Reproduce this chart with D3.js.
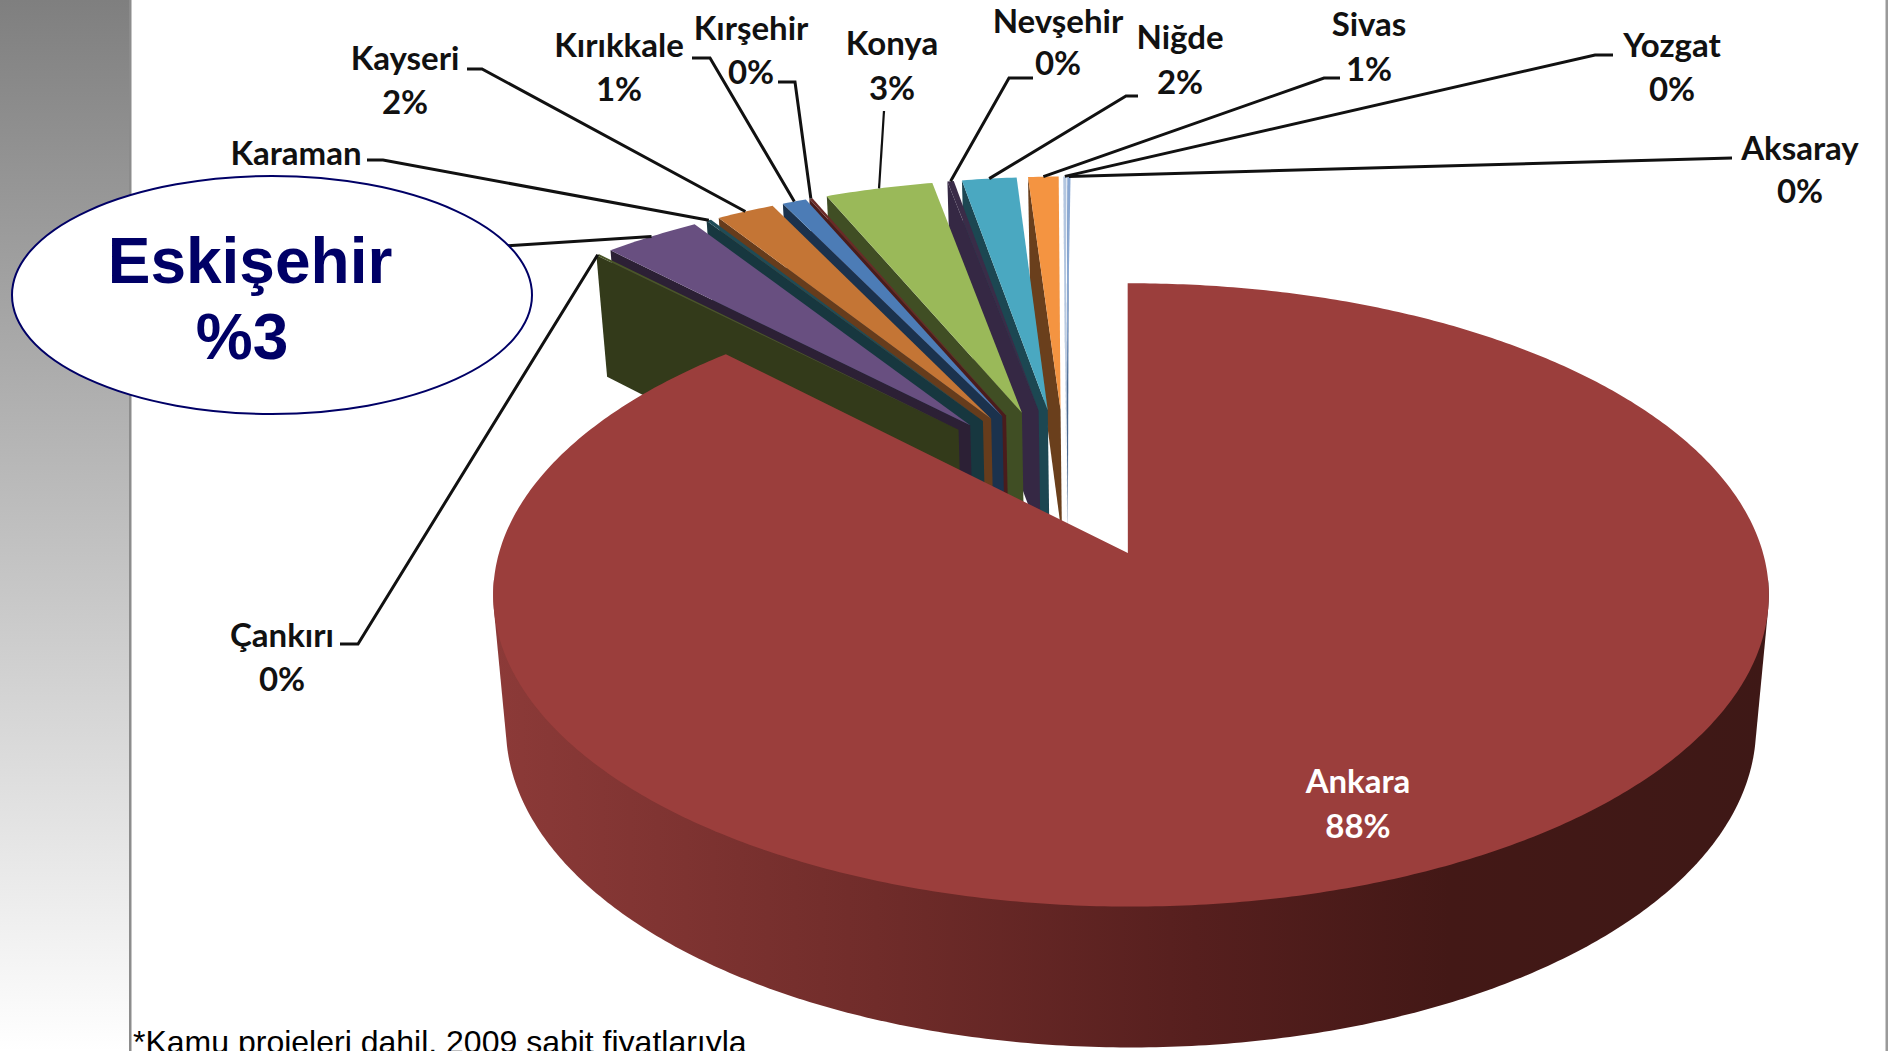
<!DOCTYPE html>
<html>
<head>
<meta charset="utf-8">
<script src="https://d3js.org/d3.v7.min.js"></script>
<style>
html, body { margin: 0; padding: 0; background: #fff; overflow: hidden; }
svg { display: block; }
.lbl { font-family: Lato, sans-serif; font-weight: 700; font-size: 33px; text-anchor: middle; fill: #111; }
</style>
</head>
<body>
<svg id="chart" width="1888" height="1051"></svg>
<script>
// data, clockwise from 12 o'clock
const cities = ["Ankara","Çankırı","Eskişehir","Karaman","Kayseri","Kırıkkale","Kırşehir","Konya","Nevşehir","Niğde","Sivas","Yozgat","Aksaray"];
const shares = [87.7, 0.1, 3.0, 0.15, 1.8, 0.75, 0.1, 3.35, 0.2, 1.7, 0.95, 0.1, 0.1];

const topColors  = ["#9b3e3c","#4a5628","#684f80","#1f4c57","#c47535","#4c7cb6","#6a2a28","#9ab959","#3a2c48","#4aa8c1","#f49441","#b3c6e0","#8aa8d2"];
const wallColors = ["#6b2a28","#333a1a","#2c2035","#17373f","#663c1c","#1b324d","#4a1c1c","#404e24","#352844","#1c4752","#6a3f1c","#5b7aa3","#4b6a91"];

// label layout: text centre, then leader elbow points
const labelLayout = {
  "Kayseri":   {x: 405,  y: 58,  vy: 102, leader: [[467,69],[482,69]]},
  "Kırıkkale": {x: 619,  y: 45,  vy: 89,  leader: [[692,58],[710,58]]},
  "Kırşehir":  {x: 751,  y: 28,  vy: 72,  leader: [[778,82],[795,82]]},
  "Konya":     {x: 892,  y: 43,  vy: 88,  leader: [[884,111]]},
  "Nevşehir":  {x: 1058, y: 21,  vy: 63,  leader: [[1033,78],[1009,78]]},
  "Niğde":     {x: 1180, y: 37,  vy: 82,  leader: [[1138,96],[1126,96]]},
  "Sivas":     {x: 1369, y: 24,  vy: 69,  leader: [[1340,78],[1324,78]]},
  "Yozgat":    {x: 1672, y: 45,  vy: 89,  leader: [[1613,55],[1595,55]]},
  "Aksaray":   {x: 1800, y: 148, vy: 191, leader: [[1732,158]]},
  "Karaman":   {x: 296,  y: 153, leader: [[367,160],[383,160]]},
  "Çankırı":   {x: 282,  y: 635, vy: 679, leader: [[340,644],[358,644]]}
};

const svg = d3.select("#chart");
const defs = svg.append("defs");

// perspective of the pie plane, fitted to the big slice
const x0 = 1131, y0 = 553, sx = 632, sy = 306, k = 0.1346;
const explode = 0.26, radius = 0.975;

function proj(X, Y, low) {
  const s = 1 / (1 + k * Y);
  if (!low) return [x0 + sx * X * s, y0 - sy * Y * s];
  return [x0 + sx * 0.98 * X * s, y0 - sy * Y * s + 131 / (1 + 0.07 * Y)];
}

const turn = -0.006;
const pie = d3.pie().sort(null).startAngle(turn).endAngle(2 * Math.PI + turn);
const arcs = pie(shares);

// plane position of each slice's tip; the big slice sits at the origin
const big = (arcs[0].startAngle + arcs[0].endAngle) / 2;
const cx3 = -explode * Math.sin(big) - 0.007, cy3 = -explode * Math.cos(big);
function tip(d, i) {
  if (i === 0) return [0, 0];
  const b = (d.startAngle + d.endAngle) / 2;
  return [cx3 + explode * Math.sin(b), cy3 + explode * Math.cos(b)];
}
function rimPoint(t, a, r, low) {
  return proj(t[0] + r * Math.sin(a), t[1] + r * Math.cos(a), low);
}
function rim(t, a0, a1, r, low) {
  const n = Math.max(2, Math.ceil(Math.abs(a1 - a0) / 0.01));
  return d3.range(n + 1).map(j => rimPoint(t, a0 + (a1 - a0) * j / n, r, low));
}
const line = d3.line();

// left panel
const panel = defs.append("linearGradient").attr("id", "panel")
  .attr("x1", 0).attr("y1", 0).attr("x2", 0).attr("y2", 1);
panel.append("stop").attr("offset", 0).attr("stop-color", "#7f7f7f");
panel.append("stop").attr("offset", 1).attr("stop-color", "#ffffff");
svg.append("rect").attr("x", 0).attr("y", 0).attr("width", 129).attr("height", 1051).attr("fill", "url(#panel)");
svg.append("rect").attr("x", 129).attr("y", 0).attr("width", 2.5).attr("height", 1051).attr("fill", "#8c8c8c");
svg.append("rect").attr("x", 1885.5).attr("y", 0).attr("width", 2.5).attr("height", 1051).attr("fill", "#9a9a9a");

// small slices, back to front (right to left)
const g = svg.append("g");
for (let i = arcs.length - 1; i >= 1; i--) {
  const d = arcs[i], t = tip(d, i);
  g.append("path")
    .attr("d", line([proj(t[0], t[1]), rimPoint(t, d.startAngle, radius), rimPoint(t, d.startAngle, radius, true), proj(t[0], t[1], true)]) + "Z")
    .attr("fill", wallColors[i]);
  g.append("path")
    .attr("d", line([proj(t[0], t[1])].concat(rim(t, d.startAngle, d.endAngle, radius))) + "Z")
    .attr("fill", topColors[i]);
}

// big slice: outer wall with a left to right shade, then top face
const shade = defs.append("linearGradient").attr("id", "wall").attr("gradientUnits", "userSpaceOnUse")
  .attr("x1", 494).attr("y1", 0).attr("x2", 1769).attr("y2", 0);
[[0, "#8c3a38"], [0.3, "#702c2a"], [0.55, "#561f1e"], [0.75, "#431816"], [1, "#3e1816"]]
  .forEach(s => shade.append("stop").attr("offset", s[0]).attr("stop-color", s[1]));

const t0 = tip(arcs[0], 0);
const a95 = Math.PI * 95 / 180, a265 = Math.PI * 265 / 180;
const hull = d3.polygonHull(rim(t0, a95, a265, 1).concat(rim(t0, a95, a265, 1, true)));
g.append("path").attr("d", line(hull) + "Z").attr("fill", "url(#wall)");
g.append("path")
  .attr("d", line([proj(-0.005, 0)].concat(rim(t0, arcs[0].startAngle, arcs[0].endAngle, 1))) + "Z")
  .attr("fill", topColors[0]);

// leaders and labels
const pct = d3.format(".0f");
cities.forEach((c, i) => {
  const lay = labelLayout[c];
  const d = arcs[i], t = tip(d, i);
  if (lay) {
    const end = rimPoint(t, (d.startAngle + d.endAngle) / 2, radius);
    svg.append("path").attr("d", line(lay.leader.concat([end])))
      .attr("fill", "none").attr("stroke", "#111").attr("stroke-width", c === "Konya" ? 2.2 : 3);
    svg.append("text").attr("class", "lbl").attr("x", lay.x).attr("y", lay.y).attr("dy", "0.35em").text(c);
    if (lay.vy) svg.append("text").attr("class", "lbl").attr("x", lay.x).attr("y", lay.vy).attr("dy", "0.35em").text(pct(shares[i]) + "%");
  }
});

svg.append("text").attr("class", "lbl").attr("x", 1358).attr("y", 781).attr("dy", "0.35em").style("fill", "#fff").text(cities[0]);
svg.append("text").attr("class", "lbl").attr("x", 1358).attr("y", 826).attr("dy", "0.35em").style("fill", "#fff").text(pct(shares[0]) + "%");

// Eskişehir callout over its leader
const eski = rimPoint(tip(arcs[2], 2), (arcs[2].startAngle + arcs[2].endAngle) / 2, radius);
svg.append("path").attr("d", line([[440, 250], eski])).attr("fill", "none").attr("stroke", "#111").attr("stroke-width", 3);
svg.append("ellipse").attr("cx", 272).attr("cy", 295).attr("rx", 260).attr("ry", 119)
  .attr("fill", "#fff").attr("stroke", "#000066").attr("stroke-width", 2);
svg.append("text").attr("x", 250).attr("y", 261).attr("dy", "0.35em").attr("text-anchor", "middle")
  .style("font", "bold 64px 'Liberation Sans'").style("fill", "#000066").text(cities[2]);
svg.append("text").attr("x", 242).attr("y", 337).attr("dy", "0.35em").attr("text-anchor", "middle")
  .style("font", "bold 64px 'Liberation Sans'").style("fill", "#000066").text("%" + pct(shares[2]));

svg.append("text").attr("x", 133).attr("y", 1053)
  .style("font", "32px 'Liberation Sans'").style("fill", "#000").text("*Kamu projeleri dahil, 2009 sabit fiyatlarıyla");
</script>
</body>
</html>
